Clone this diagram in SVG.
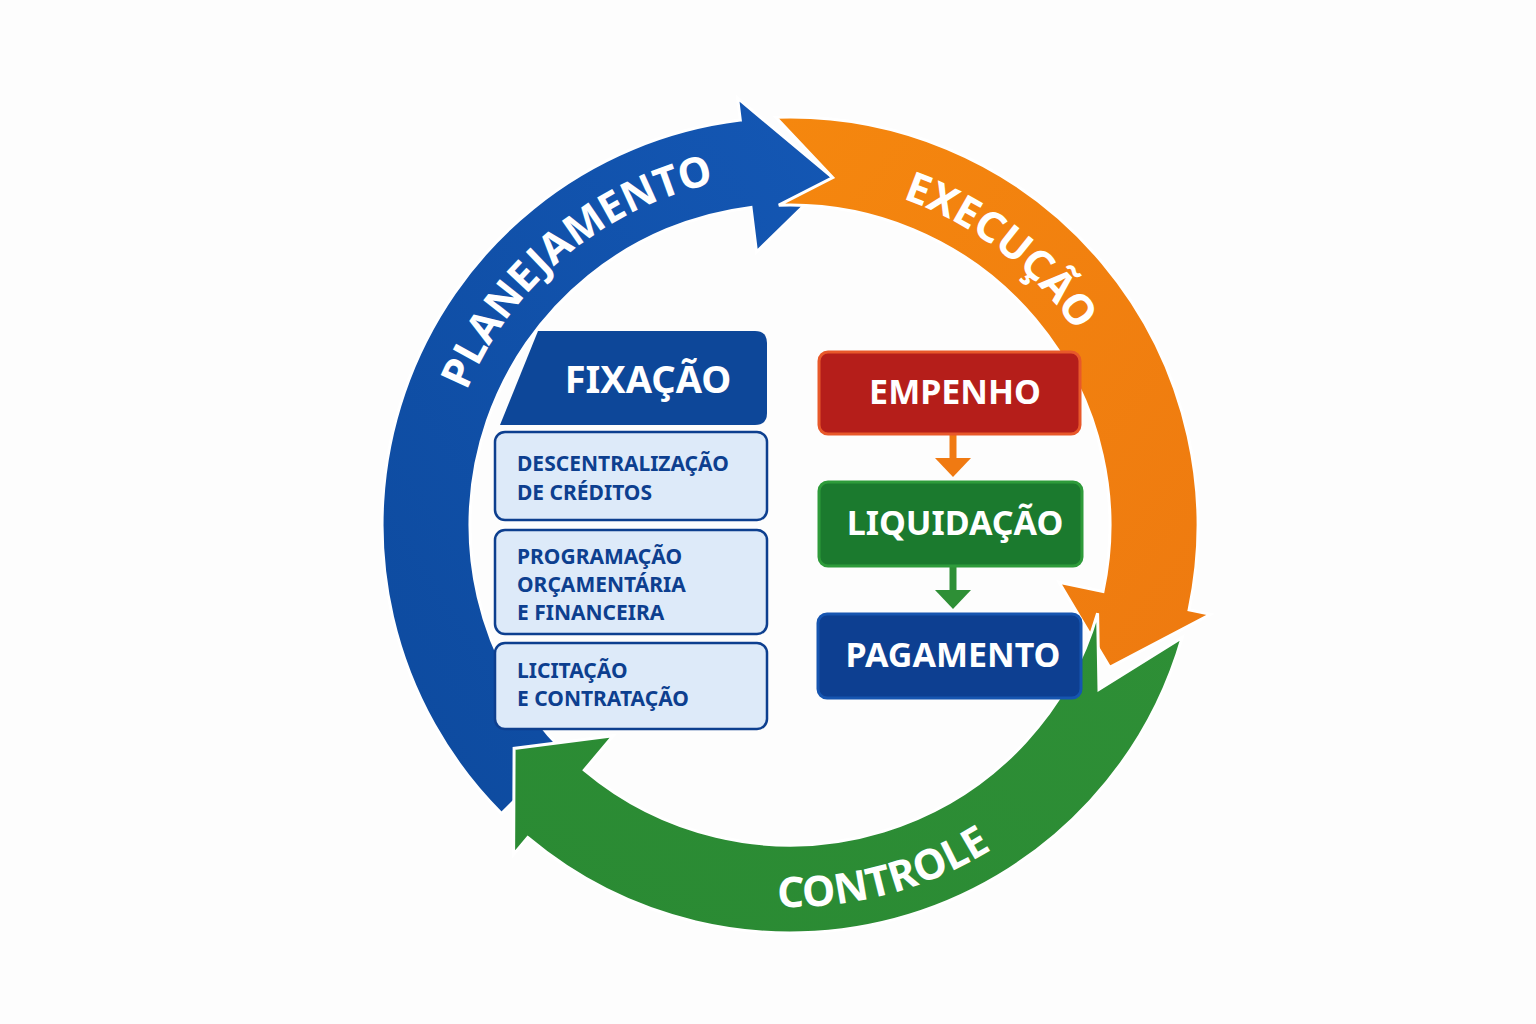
<svg xmlns="http://www.w3.org/2000/svg" width="1536" height="1024" viewBox="0 0 1536 1024">
<style>
.lbl{font-family:"Noto Sans","Open Sans",sans-serif;font-weight:bold;fill:#fff}
.ring{font-size:42px}
.sub{font-family:"Noto Sans","Open Sans",sans-serif;font-weight:bold;fill:#0D3F8F;font-size:21px}
.lb{fill:#DDEAF9;stroke:#0D3F8F;stroke-width:2.5}
.hd{font-size:34px;text-anchor:middle}
</style>
<defs>
<linearGradient id="gb" x1="0" y1="1" x2="1" y2="0"><stop offset="0" stop-color="#0D4A9E"/><stop offset="1" stop-color="#1457B4"/></linearGradient>
<linearGradient id="go" x1="0" y1="0" x2="1" y2="1"><stop offset="0" stop-color="#F5870E"/><stop offset="1" stop-color="#EE7A10"/></linearGradient>
<linearGradient id="gg" x1="1" y1="0" x2="0" y2="1"><stop offset="0" stop-color="#2E8F36"/><stop offset="1" stop-color="#2A8A33"/></linearGradient>
<path id="pPlan" d="M 452 434 A 350 350 0 0 1 759.5 176.3"/>
<path id="pExec" d="M 849.9 185.2 A 345 345 0 0 1 1102.7 379.2"/>
<path id="pCtrl" d="M 691.1 894 A 382 382 0 0 0 1060.1 795.1"/>
</defs>
<rect width="1536" height="1024" fill="#FDFDFD"/>
<g id="connectors">
<path id="blue-arc" fill="url(#gb)" stroke="#fff" stroke-width="3" d="M 501.5 813.5 A 408 408 0 0 1 740.3 120.1 L 737.6 98.2 L 832.7 177.6 L 756.5 252 L 751 207.4 A 320 320 0 0 0 563.7 751.3 Z"/>
<path id="orange-arc" fill="url(#go)" stroke="#fff" stroke-width="3" d="M 775.8 117.3 A 408 408 0 0 1 1189.1 609.8 L 1210.6 614.4 L 1109.7 667.3 L 1059 582.2 L 1103 591.5 A 320 320 0 0 0 778.8 205.2 L 832.7 177.6 Z"/>
<path id="green-arc" fill="url(#gg)" stroke="#fff" stroke-width="3" d="M 1182.2 637.4 A 408 408 0 0 1 527.7 837.5 L 513.6 854.4 L 514.1 748.4 L 613.2 735.7 L 584.3 770.1 A 320 320 0 0 0 1097.6 613.2 L 1099 689.3 Z"/>
<path d="M953 434 V462" stroke="#F07A12" stroke-width="7"/>
<path d="M935 458 L971 458 L953 477 Z" fill="#F07A12"/>
<path d="M953 566 V592" stroke="#2E8F36" stroke-width="7"/>
<path d="M935 590 L971 590 L953 609 Z" fill="#2E8F36"/>
</g>
<g id="ring-labels" class="lbl ring">
<text><textPath href="#pPlan" startOffset="50%" text-anchor="middle">PLANEJAMENTO</textPath></text>
<text><textPath href="#pExec" startOffset="50%" text-anchor="middle">EXECUÇÃO</textPath></text>
<text><textPath href="#pCtrl" startOffset="50%" text-anchor="middle">CONTROLE</textPath></text>
</g>
<g id="fixacao">
<path d="M538 331 H755 Q767 331 767 343 V413 Q767 425 755 425 H500 Z" fill="#0D4799"/>
<text x="648" y="393" class="lbl hd" style="font-size:38px">FIXAÇÃO</text>
</g>
<g id="descentralizacao"><rect x="495" y="432" width="272" height="88" rx="10" class="lb"/>
<text class="sub" x="517" y="471">DESCENTRALIZAÇÃO</text><text class="sub" x="517" y="500">DE CRÉDITOS</text></g>
<g id="programacao"><rect x="495" y="530" width="272" height="104" rx="10" class="lb"/>
<text class="sub" x="517" y="564">PROGRAMAÇÃO</text><text class="sub" x="517" y="592">ORÇAMENTÁRIA</text><text class="sub" x="517" y="620">E FINANCEIRA</text></g>
<g id="licitacao"><rect x="495" y="643" width="272" height="86" rx="10" class="lb"/>
<text class="sub" x="517" y="678">LICITAÇÃO</text><text class="sub" x="517" y="706">E CONTRATAÇÃO</text></g>
<g id="empenho"><rect x="819" y="352" width="261" height="82" rx="9" fill="#B51E1A" stroke="#E8582A" stroke-width="3"/>
<text x="955" y="404" class="lbl hd">EMPENHO</text></g>
<g id="liquidacao"><rect x="819" y="482" width="263" height="84" rx="9" fill="#1B7A2E" stroke="#2E9B3A" stroke-width="3"/>
<text x="955" y="535" class="lbl hd">LIQUIDAÇÃO</text></g>
<g id="pagamento"><rect x="818" y="614" width="263" height="84" rx="9" fill="#0D3F91" stroke="#1655B0" stroke-width="3"/>
<text x="953" y="667" class="lbl hd">PAGAMENTO</text></g>
</svg>
